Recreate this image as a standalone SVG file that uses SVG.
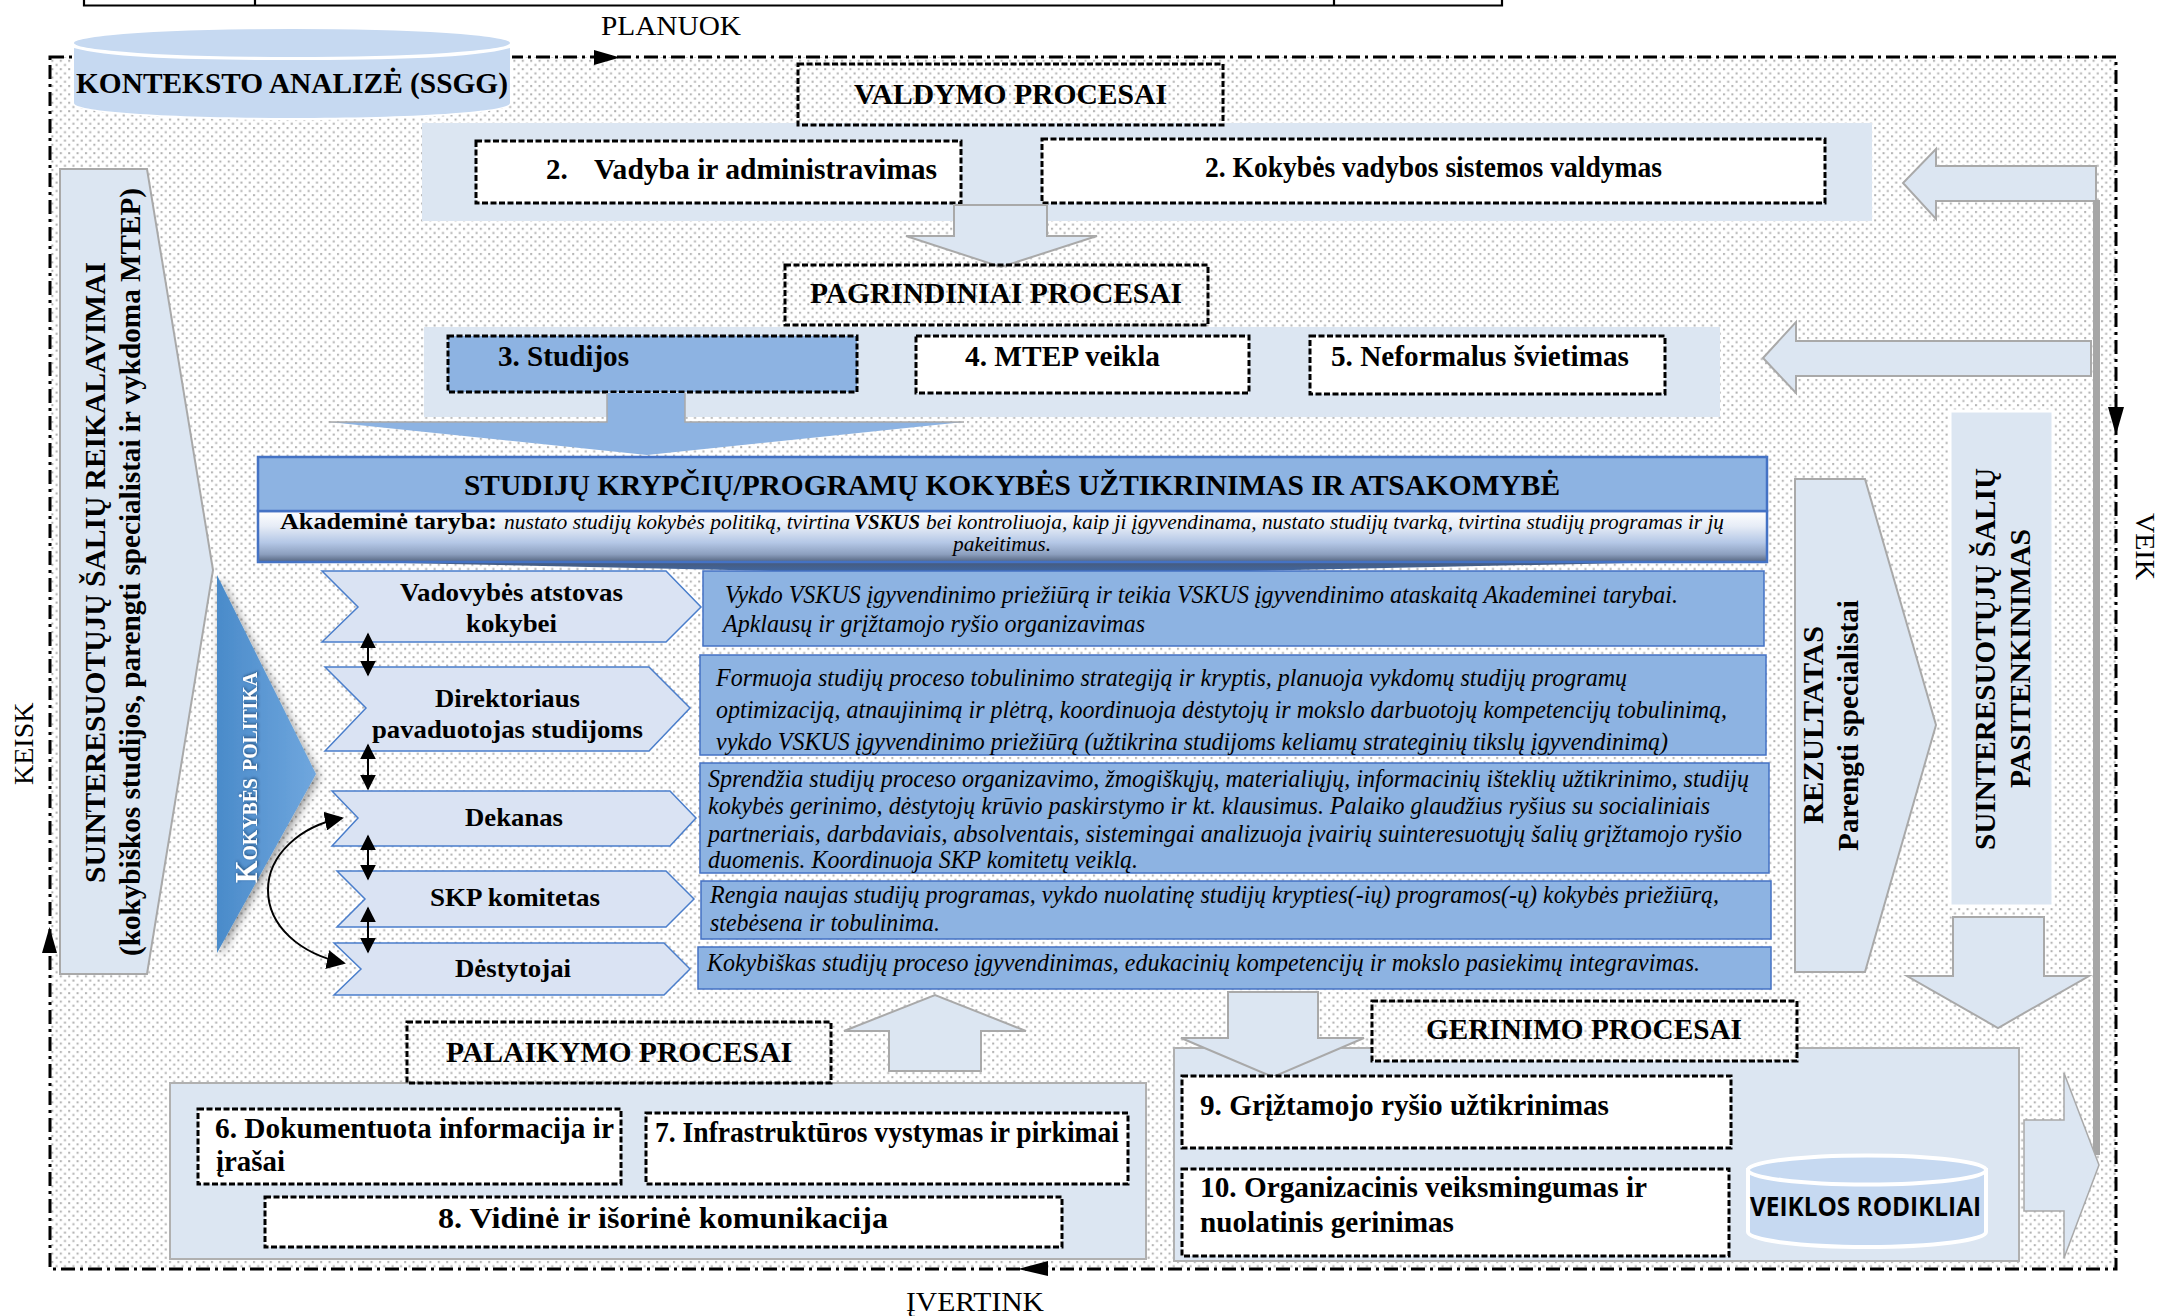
<svg xmlns="http://www.w3.org/2000/svg" width="2157" height="1316" viewBox="0 0 2157 1316">
<defs>
<pattern id="dots" width="8.4" height="8.4" patternUnits="userSpaceOnUse"><rect width="8.4" height="8.4" fill="#fff"/><rect x="1" y="1" width="2" height="2" fill="#b0b0b0"/><rect x="5.2" y="5.2" width="2" height="2" fill="#b0b0b0"/></pattern>
<linearGradient id="gAk" x1="0" y1="0" x2="0" y2="1"><stop offset="0" stop-color="#ffffff"/><stop offset="0.3" stop-color="#e6ecf6"/><stop offset="0.62" stop-color="#b4c7e6"/><stop offset="0.85" stop-color="#8c9fbe"/><stop offset="1" stop-color="#55657f"/></linearGradient>
<linearGradient id="gAkB" x1="0" y1="0" x2="0" y2="1"><stop offset="0" stop-color="#4a5870"/><stop offset="1" stop-color="#3a6cb8"/></linearGradient>
<linearGradient id="gTri" x1="0" y1="0" x2="1" y2="0"><stop offset="0" stop-color="#4a8bca"/><stop offset="1" stop-color="#70a7de"/></linearGradient>
<filter id="sh" x="-20%" y="-10%" width="140%" height="120%"><feDropShadow dx="3" dy="3" stdDeviation="4" flood-color="#000" flood-opacity="0.4"/></filter>
<filter id="tsh" x="-10%" y="-10%" width="120%" height="120%"><feDropShadow dx="1" dy="1" stdDeviation="1.5" flood-color="#0b2a50" flood-opacity="0.7"/></filter>
<marker id="mk" viewBox="0 0 10 10" refX="9" refY="5" markerWidth="16" markerHeight="16" markerUnits="userSpaceOnUse" orient="auto-start-reverse"><path d="M0 0 L10 5 L0 10 Z" fill="#000"/></marker>
<marker id="mc" viewBox="0 0 10 10" refX="9" refY="5" markerWidth="19" markerHeight="19" markerUnits="userSpaceOnUse" orient="auto-start-reverse"><path d="M0 0 L10 5 L0 10 Z" fill="#000"/></marker>
</defs>
<style>
text{font-family:"Liberation Serif","Times New Roman",serif;fill:#000}
.b{font-weight:bold;font-size:29px}
.c{font-weight:bold;font-size:26px;text-anchor:start}
.i{font-style:italic;font-size:25px}
.l{font-size:28px}
.band{fill:#dce6f2}
.bandS{fill:#dce6f2;stroke:#b0b0b0;stroke-width:2}
.arr{fill:#dce6f2;stroke:#a9a9a9;stroke-width:2}
.box{fill:#fff;stroke:#000;stroke-width:3;stroke-dasharray:6 2.5}
.hd{fill:none;stroke:#000;stroke-width:3;stroke-dasharray:6 2.5}
.chev{fill:#dae3f3;stroke:#4a7ecb;stroke-width:1.5}
.desc{fill:#8db3e2;stroke:#4472c4;stroke-width:1.5}
.frame{fill:none;stroke:#000;stroke-width:3;stroke-dasharray:14 5 3 5}
.dbl{stroke:#000;stroke-width:2;fill:none;marker-start:url(#mk);marker-end:url(#mk)}
.cyl{fill:#c6d9f1}
</style>
<g id="table-fragment" fill="none" stroke="#000" stroke-width="2.2"><path d="M84 0V5.5H1502V0M255 0V5.5M1334 0V5.5"/></g>
<rect id="background" x="50" y="57" width="2066" height="1212" fill="url(#dots)"/>
<g id="cycle-frame">
<rect class="frame" x="50" y="57" width="2066" height="1212"/>
<path d="M594 50L620 57.5L594 65Z"/>
<path d="M2108 407L2124 407L2116 435Z"/>
<path d="M1048 1261L1018 1269L1048 1276Z"/>
<path d="M42 953L49.5 927L57 953Z"/>
</g>
<g id="label-planuok"><text class="l" x="601" y="35" textLength="140" lengthAdjust="spacingAndGlyphs">PLANUOK</text></g>
<g id="label-veik"><text class="l" transform="translate(2136 513) rotate(90)">VEIK</text></g>
<g id="label-keisk"><text class="l" transform="translate(33 785) rotate(-90)">KEISK</text></g>
<g id="label-ivertink"><text class="l" x="906" y="1311" textLength="138" lengthAdjust="spacingAndGlyphs">ĮVERTINK</text></g>

<g id="konteksto-analize">
<path d="M72 45V103C72 113 170 120 292 120C414 120 512 113 512 103V45Z" fill="#fff"/>
<path class="cyl" d="M74 48C110 58 190 60 292 60C394 60 474 58 510 48V103C510 112 410 118 292 118C174 118 74 112 74 103Z"/>
<ellipse class="cyl" cx="292" cy="43" rx="218" ry="14"/>
<text class="b" x="76" y="93" textLength="432" lengthAdjust="spacingAndGlyphs">KONTEKSTO ANALIZĖ (SSGG)</text>
</g>
<g id="valdymo-band"><rect class="band" x="422" y="123" width="1450" height="98"/></g>
<g id="valdymo-header"><rect class="hd" x="798" y="64" width="425" height="61"/><text class="b" x="854" y="104" textLength="313" lengthAdjust="spacingAndGlyphs">VALDYMO PROCESAI</text></g>
<g id="vadyba"><rect class="box" x="476" y="141" width="485" height="62"/><text class="b" x="546" y="179">2.</text><text class="b" x="594" y="179" textLength="343" lengthAdjust="spacingAndGlyphs">Vadyba ir administravimas</text></g>
<g id="kvs-valdymas"><rect class="box" x="1042" y="139" width="783" height="64"/><text class="b" x="1205" y="177" textLength="457" lengthAdjust="spacingAndGlyphs">2. Kokybės vadybos sistemos valdymas</text></g>
<g id="arrow-valdymas-pagrindiniai"><path class="arr" d="M954 205H1047V236H1097L1001 267L906 236H954Z"/></g>
<g id="arrow-to-valdymas"><path class="arr" d="M2096 166V201H1936V219L1903 183L1936 149V166Z"/></g>
<g id="arrow-to-pagrindiniai"><path class="arr" d="M2091 341V376H1796V393L1763 358L1796 322V341Z"/></g>

<g id="pagrindiniai-band"><rect class="band" x="424" y="327" width="1296" height="90"/></g>
<g id="pagrindiniai-header"><rect class="hd" x="785" y="265" width="423" height="60"/><text class="b" x="810" y="303" textLength="372" lengthAdjust="spacingAndGlyphs">PAGRINDINIAI PROCESAI</text></g>
<g id="studijos"><rect class="box" style="fill:#8db3e2" x="448" y="336" width="409" height="56"/><text class="b" x="498" y="366" textLength="131" lengthAdjust="spacingAndGlyphs">3. Studijos</text></g>
<g id="mtep"><rect class="box" x="916" y="336" width="333" height="57"/><text class="b" x="965" y="366" textLength="195" lengthAdjust="spacingAndGlyphs">4. MTEP veikla</text></g>
<g id="neformalus"><rect class="box" x="1310" y="336" width="355" height="58"/><text class="b" x="1331" y="366" textLength="298" lengthAdjust="spacingAndGlyphs">5. Neformalus švietimas</text></g>
<g id="arrow-studijos"><path d="M607 393H685V422H964L647 455L329 422H607Z" fill="#8db3e2"/><path d="M607 393V422H329M685 393V422H964" fill="none" stroke="#a9a9a9" stroke-width="1.5"/></g>

<g id="akademine-taryba">
<path d="M258 560L1011 576L1767 560Z" fill="url(#gAkB)"/>
<rect x="258" y="511" width="1509" height="51" fill="url(#gAk)" stroke="#4472c4" stroke-width="2.5"/>
<text x="280" y="529" font-weight="bold" font-size="24" textLength="217" lengthAdjust="spacingAndGlyphs">Akademinė taryba:</text>
<text class="i" style="font-size:20px" x="504" y="529" textLength="346" lengthAdjust="spacingAndGlyphs">nustato studijų kokybės politiką, tvirtina</text>
<text class="i" style="font-size:20px;font-weight:bold" x="854" y="529" textLength="66" lengthAdjust="spacingAndGlyphs">VSKUS</text>
<text class="i" style="font-size:20px" x="926" y="529" textLength="798" lengthAdjust="spacingAndGlyphs">bei kontroliuoja, kaip ji įgyvendinama, nustato studijų tvarką, tvirtina studijų programas ir jų</text>
<text class="i" style="font-size:20px" x="953" y="551" textLength="98" lengthAdjust="spacingAndGlyphs">pakeitimus.</text>
</g>
<g id="studiju-kokybe"><rect class="desc" style="stroke-width:2.5" x="258" y="457" width="1509" height="54"/><text class="b" x="464" y="495" textLength="1096" lengthAdjust="spacingAndGlyphs">STUDIJŲ KRYPČIŲ/PROGRAMŲ KOKYBĖS UŽTIKRINIMAS IR ATSAKOMYBĖ</text></g>

<g id="suinteresuotu-reikalavimai"><path class="arr" d="M60 169H147L213 570L147 974H60Z"/>
<text class="b" transform="translate(105 883) rotate(-90)" textLength="621" lengthAdjust="spacingAndGlyphs">SUINTERESUOTŲJŲ ŠALIŲ REIKALAVIMAI</text>
<text class="b" transform="translate(140 956) rotate(-90)" textLength="768" lengthAdjust="spacingAndGlyphs">(kokybiškos studijos, parengti specialistai ir vykdoma MTEP)</text></g>
<g id="kokybes-politika"><path d="M217 575L316 774L217 953Z" fill="url(#gTri)" filter="url(#sh)"/>
<text transform="translate(257 883) rotate(-90)" font-weight="bold" font-size="32" style="fill:#fff;font-variant:small-caps" filter="url(#tsh)" textLength="211" lengthAdjust="spacingAndGlyphs">Kokybės politika</text></g>

<g id="vadovybes-atstovas"><path class="chev" d="M322 571H666L701 607L666 642H322L358 607Z"/><text class="c" x="400" y="601" textLength="223" lengthAdjust="spacingAndGlyphs">Vadovybės atstovas</text><text class="c" x="466" y="632" textLength="91" lengthAdjust="spacingAndGlyphs">kokybei</text></g>
<g id="vadovybes-desc"><rect class="desc" x="703" y="571" width="1061" height="75"/><text class="i" x="725" y="603" textLength="953" lengthAdjust="spacingAndGlyphs">Vykdo VSKUS įgyvendinimo priežiūrą ir teikia VSKUS įgyvendinimo ataskaitą Akademinei tarybai.</text><text class="i" x="723" y="632" textLength="422" lengthAdjust="spacingAndGlyphs">Apklausų ir grįžtamojo ryšio organizavimas</text></g>
<g id="direktoriaus-pavaduotojas"><path class="chev" d="M325 667H649L690 708L649 751H325L366 708Z"/><text class="c" x="435" y="707" textLength="145" lengthAdjust="spacingAndGlyphs">Direktoriaus</text><text class="c" x="372" y="738" textLength="271" lengthAdjust="spacingAndGlyphs">pavaduotojas studijoms</text></g>
<g id="direktoriaus-desc"><rect class="desc" x="700" y="655" width="1066" height="100"/><text class="i" x="716" y="686" textLength="911" lengthAdjust="spacingAndGlyphs">Formuoja studijų proceso tobulinimo strategiją ir kryptis, planuoja vykdomų studijų programų</text><text class="i" x="716" y="718" textLength="1011" lengthAdjust="spacingAndGlyphs">optimizaciją, atnaujinimą ir plėtrą, koordinuoja dėstytojų ir mokslo darbuotojų kompetencijų tobulinimą,</text><text class="i" x="716" y="750" textLength="952" lengthAdjust="spacingAndGlyphs">vykdo VSKUS įgyvendinimo priežiūrą (užtikrina studijoms keliamų strateginių tikslų įgyvendinimą)</text></g>
<g id="dekanas"><path class="chev" d="M332 791H670L696 818L670 846H332L358 818Z"/><text class="c" x="465" y="826" textLength="98" lengthAdjust="spacingAndGlyphs">Dekanas</text></g>
<g id="dekanas-desc"><rect class="desc" x="700" y="763" width="1069" height="110"/><text class="i" x="708" y="787" textLength="1041" lengthAdjust="spacingAndGlyphs">Sprendžia studijų proceso organizavimo, žmogiškųjų, materialiųjų, informacinių išteklių užtikrinimo, studijų</text><text class="i" x="708" y="814" textLength="1002" lengthAdjust="spacingAndGlyphs">kokybės gerinimo, dėstytojų krūvio paskirstymo ir kt. klausimus. Palaiko glaudžius ryšius su socialiniais</text><text class="i" x="708" y="842" textLength="1034" lengthAdjust="spacingAndGlyphs">partneriais, darbdaviais, absolventais, sistemingai analizuoja įvairių suinteresuotųjų šalių grįžtamojo ryšio</text><text class="i" x="708" y="868" textLength="430" lengthAdjust="spacingAndGlyphs">duomenis. Koordinuoja SKP komitetų veiklą.</text></g>
<g id="skp-komitetas"><path class="chev" d="M337 871H666L694 899L666 927H337L365 899Z"/><text class="c" x="430" y="906" textLength="170" lengthAdjust="spacingAndGlyphs">SKP komitetas</text></g>
<g id="skp-desc"><rect class="desc" x="701" y="881" width="1070" height="58"/><text class="i" x="710" y="903" textLength="1009" lengthAdjust="spacingAndGlyphs">Rengia naujas studijų programas, vykdo nuolatinę studijų krypties(-ių) programos(-ų) kokybės priežiūrą,</text><text class="i" x="710" y="931" textLength="230" lengthAdjust="spacingAndGlyphs">stebėsena ir tobulinima.</text></g>
<g id="destytojai"><path class="chev" d="M334 943H664L690 969L664 995H334L361 969Z"/><text class="c" x="455" y="977" textLength="116" lengthAdjust="spacingAndGlyphs">Dėstytojai</text></g>
<g id="destytojai-desc"><rect class="desc" x="698" y="947" width="1073" height="42"/><text class="i" x="707" y="971" textLength="993" lengthAdjust="spacingAndGlyphs">Kokybiškas studijų proceso įgyvendinimas, edukacinių kompetencijų ir mokslo pasiekimų integravimas.</text></g>

<g id="rezultatas"><path class="arr" d="M1795 479H1865L1936 725L1865 972H1795Z"/>
<text class="b" transform="translate(1823 824) rotate(-90)" textLength="198" lengthAdjust="spacingAndGlyphs">REZULTATAS</text>
<text class="b" transform="translate(1858 851) rotate(-90)" textLength="251" lengthAdjust="spacingAndGlyphs">Parengti specialistai</text></g>
<g id="suinteresuotu-pasitenkinimas"><rect x="1950" y="411" width="103" height="495" fill="#dce6f2" stroke="#fff" stroke-width="3"/>
<text class="b" transform="translate(1995 850) rotate(-90)" textLength="382" lengthAdjust="spacingAndGlyphs">SUINTERESUOTŲJŲ ŠALIŲ</text>
<text class="b" transform="translate(2030 788) rotate(-90)" textLength="259" lengthAdjust="spacingAndGlyphs">PASITENKINIMAS</text></g>
<g id="arrow-pasitenkinimas"><path class="arr" d="M1953 917H2044V976H2089L1998 1028L1907 976H1953Z"/></g>

<g id="arrow-palaikymas"><path class="arr" d="M889 1071V1031H844L935 995L1026 1031H981V1071Z"/></g>
<g id="palaikymo-band"><rect class="bandS" x="170" y="1083" width="976" height="176"/></g>
<g id="palaikymo-header"><rect class="hd" x="407" y="1022" width="424" height="61"/><text class="b" x="446" y="1062" textLength="346" lengthAdjust="spacingAndGlyphs">PALAIKYMO PROCESAI</text></g>
<g id="dokumentuota"><rect class="box" x="198" y="1109" width="423" height="75"/><text class="b" x="215" y="1138" textLength="399" lengthAdjust="spacingAndGlyphs">6. Dokumentuota informacija ir</text><text class="b" x="216" y="1171" textLength="69" lengthAdjust="spacingAndGlyphs">įrašai</text></g>
<g id="infrastruktura"><rect class="box" x="646" y="1113" width="482" height="71"/><text class="b" x="655" y="1142" textLength="464" lengthAdjust="spacingAndGlyphs">7. Infrastruktūros vystymas ir pirkimai</text></g>
<g id="komunikacija"><rect class="box" x="265" y="1197" width="797" height="50"/><text class="b" x="438" y="1228" textLength="450" lengthAdjust="spacingAndGlyphs">8. Vidinė ir išorinė komunikacija</text></g>

<g id="gerinimo-band"><rect class="bandS" x="1174" y="1048" width="845" height="213"/></g>
<g id="arrow-gerinimas"><path class="arr" d="M1228 992H1318V1038H1364L1273 1077L1181 1038H1228Z"/></g>
<g id="gerinimo-header"><rect class="hd" style="fill:url(#dots)" x="1372" y="1001" width="425" height="60"/><text class="b" x="1426" y="1039" textLength="316" lengthAdjust="spacingAndGlyphs">GERINIMO PROCESAI</text></g>
<g id="griztamasis-rysys"><rect class="box" x="1182" y="1076" width="549" height="72"/><text class="b" x="1200" y="1115" textLength="409" lengthAdjust="spacingAndGlyphs">9. Grįžtamojo ryšio užtikrinimas</text></g>
<g id="organizacinis"><rect class="box" x="1182" y="1169" width="547" height="87"/><text class="b" x="1200" y="1197" textLength="447" lengthAdjust="spacingAndGlyphs">10. Organizacinis veiksmingumas ir</text><text class="b" x="1200" y="1232" textLength="254" lengthAdjust="spacingAndGlyphs">nuolatinis gerinimas</text></g>
<g id="veiklos-rodikliai">
<path class="cyl" d="M1748 1170V1232C1748 1240 1800 1247 1867 1247C1934 1247 1986 1240 1986 1232V1170Z" stroke="#fff" stroke-width="4"/>
<ellipse class="cyl" cx="1867" cy="1170" rx="119" ry="14.5" stroke="#fff" stroke-width="4"/>
<text x="1750" y="1216" font-size="26" font-weight="bold" style="font-family:'Open Sans','Liberation Sans',sans-serif" textLength="231" lengthAdjust="spacingAndGlyphs">VEIKLOS RODIKLIAI</text>
</g>
<g id="connectors">
<rect x="2093" y="200" width="7" height="955" fill="#a6a6a6"/>
<path class="dbl" d="M368 634V675"/>
<path class="dbl" d="M368 745V789"/>
<path class="dbl" d="M368 836V879"/>
<path class="dbl" d="M368 908V952"/>
<path d="M342 818C300 826 268 855 268 890C268 926 300 954 344 963" fill="none" stroke="#000" stroke-width="2" marker-start="url(#mc)" marker-end="url(#mc)"/>
</g>
<g id="arrow-output"><path class="arr" style="stroke-width:1.5" d="M2024 1120H2064V1073L2099 1165L2064 1258V1211H2024Z"/></g>
</svg>
